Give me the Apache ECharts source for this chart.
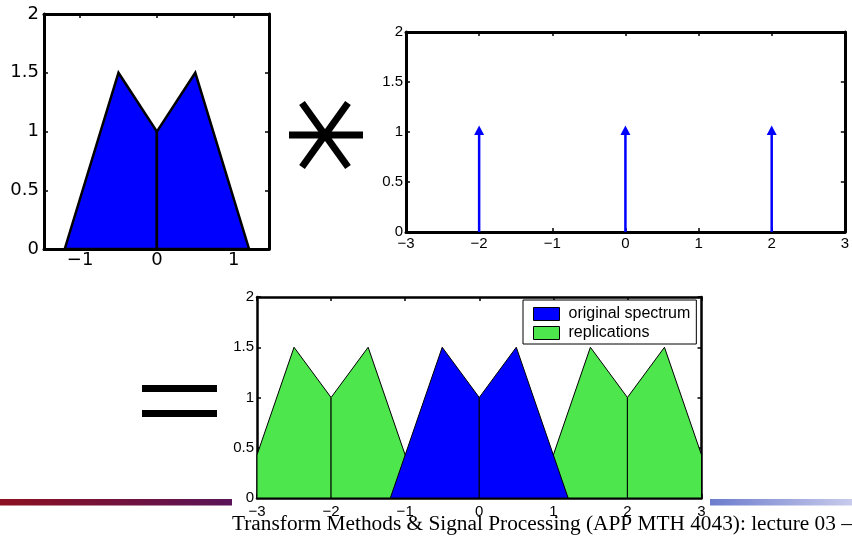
<!DOCTYPE html>
<html>
<head>
<meta charset="utf-8">
<script src="https://cdn.jsdelivr.net/npm/echarts@6/dist/echarts.min.js"></script>
<style>
  html, body { margin: 0; padding: 0; background: #fff; }
  #chart { width: 852px; height: 537px; }
</style>
</head>
<body>
<div id="chart"></div>
<script>
// One period of the spectrum: two halves that meet at the centre
const spectrumX = [-1.2, -0.5, 0, 0.5, 1.2];
const spectrumY = [0, 1.5, 1, 1.5, 0];

// Impulse train it is convolved with
const impulseX = [-2, 0, 2];
const impulseY = [1, 1, 1];

// Shifts of the result: the original copy and its replications
const originalShifts = [0];
const replicaShifts = [-2, 2];

// Axis ranges and tick values
const spectrumXRange = [-1.47, 1.46];
const wideXRange = [-3, 3];
const yRange = [0, 2];
const spectrumXTicks = [-1, 0, 1];
const wideXTicks = [-3, -2, -1, 0, 1, 2, 3];
const yTicks = [0, 0.5, 1, 1.5, 2];

const legendNames = ['original spectrum', 'replications'];
const footerText = 'Transform Methods & Signal Processing (APP MTH 4043): lecture 03 \u2013';

const BLUE = '#0000ff';
const GREEN = '#4de64d';

// Left and right halves of one copy of the spectrum, shifted by `shift`
function halves(shift) {
  const c = spectrumX[2] + shift;
  const left = [[c, 0]];
  for (let i = 0; i <= 2; i++) left.push([spectrumX[i] + shift, spectrumY[i]]);
  const right = [[c, 0]];
  for (let i = 2; i <= 4; i++) right.push([spectrumX[i] + shift, spectrumY[i]]);
  return [left, right];
}

// Sutherland-Hodgman clip of a polygon against the x-range of the axis
function clipX(poly, lo, hi) {
  const pass = (pts, inside, cross) => {
    const out = [];
    for (let i = 0; i < pts.length; i++) {
      const cur = pts[i], prev = pts[(i + pts.length - 1) % pts.length];
      const ci = inside(cur), pi = inside(prev);
      if (ci) { if (!pi) out.push(cross(prev, cur)); out.push(cur); }
      else if (pi) out.push(cross(prev, cur));
    }
    return out;
  };
  const at = x => (a, b) => [x, a[1] + (b[1] - a[1]) * (x - a[0]) / (b[0] - a[0])];
  let p = pass(poly, q => q[0] >= lo, at(lo));
  p = pass(p, q => q[0] <= hi, at(hi));
  return p;
}

function spectrumSeries(name, shifts, color, lineWidth, axisIndex, range, z) {
  return {
    type: 'custom',
    name: name,
    xAxisIndex: axisIndex,
    yAxisIndex: axisIndex,
    z: z,
    itemStyle: { color: color },
    data: shifts.map(s => [s, 0]),
    renderItem(params, api) {
      const shift = api.value(0);
      return {
        type: 'group',
        children: halves(shift).map(poly => ({
          type: 'polygon',
          shape: { points: clipX(poly, range[0], range[1]).map(p => api.coord(p)) },
          style: { fill: color, stroke: '#000', lineWidth: lineWidth, lineJoin: 'miter' }
        }))
      };
    }
  };
}

const minus = v => String(v).replace('-', '\u2212');

// Bottom/left axes carry labels; top/right mirrors only carry inward ticks
function xAxes(grid, range, ticks, font, lineW, margin) {
  const base = {
    type: 'value', gridIndex: grid, min: range[0], max: range[1],
    axisLine: { onZero: false, lineStyle: { color: '#000', width: lineW } },
    axisTick: { inside: true, length: 4, customValues: ticks, lineStyle: { color: '#000', width: 1.5 } },
    splitLine: { show: false }
  };
  return [
    Object.assign({}, base, {
      position: 'bottom',
      axisLabel: { customValues: ticks, formatter: minus, color: '#000', fontSize: font.size, fontFamily: font.family, margin: margin }
    }),
    Object.assign({}, base, { position: 'top', axisLabel: { show: false } })
  ];
}
function yAxes(grid, font, lineW, margin) {
  const base = {
    type: 'value', gridIndex: grid, min: yRange[0], max: yRange[1],
    axisLine: { onZero: false, lineStyle: { color: '#000', width: lineW } },
    axisTick: { inside: true, length: 4, customValues: yTicks, lineStyle: { color: '#000', width: 1.5 } },
    splitLine: { show: false }
  };
  return [
    Object.assign({}, base, {
      position: 'left',
      axisLabel: { customValues: yTicks, formatter: minus, color: '#000', fontSize: font.size, fontFamily: font.family, margin: margin }
    }),
    Object.assign({}, base, { position: 'right', axisLabel: { show: false } })
  ];
}

const bigFont = { size: 18, family: 'DejaVu Sans' };
const smallFont = { size: 15, family: 'Liberation Sans' };

// axis list per grid: [labelled, mirror]
const xAxis = [].concat(
  xAxes(0, spectrumXRange, spectrumXTicks, bigFont, 3, 2),
  xAxes(1, wideXRange, wideXTicks, smallFont, 3, 4),
  xAxes(2, wideXRange, wideXTicks, smallFont, 2.5, 6)
);
const yAxis = [].concat(
  yAxes(0, bigFont, 3, 5),
  yAxes(1, smallFont, 3, 3),
  yAxes(2, smallFont, 2.5, 3)
);

const impulseSeries = {
  type: 'custom',
  name: 'impulses',
  xAxisIndex: 2,
  yAxisIndex: 2,
  itemStyle: { color: BLUE },
  data: impulseX.map((x, i) => [x, impulseY[i]]),
  renderItem(params, api) {
    const base = api.coord([api.value(0), 0]);
    const top = api.coord([api.value(0), api.value(1)]);
    return {
      type: 'group',
      children: [
        { type: 'line', shape: { x1: base[0], y1: base[1], x2: top[0], y2: top[1] },
          style: { stroke: BLUE, lineWidth: 2.5 } },
        { type: 'polygon', shape: { points: [[top[0], top[1] - 6.5], [top[0] - 5, top[1] + 3], [top[0] + 5, top[1] + 3]] },
          style: { fill: BLUE } }
      ]
    };
  }
};

const series = [
  spectrumSeries('spectrum', originalShifts, BLUE, 2.5, 0, spectrumXRange, 2),
  impulseSeries,
  spectrumSeries('replications', replicaShifts, GREEN, 1, 4, wideXRange, 2),
  spectrumSeries('original spectrum', originalShifts, BLUE, 1, 4, wideXRange, 3)
];

const chart = echarts.init(document.getElementById('chart'), null, { renderer: 'canvas' });
chart.setOption({
  animation: false,
  backgroundColor: '#fff',
  grid: [
    { left: 44, top: 14, width: 225, height: 235 },
    { left: 406, top: 32, width: 441, height: 200 },
    { left: 257, top: 297, width: 444.5, height: 201 }
  ],
  xAxis: xAxis,
  yAxis: yAxis,
  legend: {
    data: legendNames,
    orient: 'vertical',
    left: 523,
    top: 300,
    icon: 'rect',
    itemWidth: 26,
    itemHeight: 13,
    itemGap: 3,
    padding: [6, 6, 3, 10],
    backgroundColor: '#fff',
    borderColor: '#000',
    borderWidth: 1,
    borderRadius: 0,
    itemStyle: { borderColor: '#000', borderWidth: 1 },
    textStyle: { color: '#000', fontSize: 16, fontFamily: 'Liberation Sans', lineHeight: 14, padding: [0, 0, 0, 4] },
    selectedMode: false,
    z: 10
  },
  series: series,
  graphic: [
    // convolution sign
    { type: 'line', shape: { x1: 289, y1: 135, x2: 363, y2: 135 }, style: { stroke: '#000', lineWidth: 7 } },
    { type: 'line', shape: { x1: 302, y1: 103, x2: 348, y2: 167 }, style: { stroke: '#000', lineWidth: 7 } },
    { type: 'line', shape: { x1: 348, y1: 103, x2: 302, y2: 167 }, style: { stroke: '#000', lineWidth: 7 } },
    // equals sign
    { type: 'rect', shape: { x: 142, y: 385, width: 75, height: 7 }, style: { fill: '#000' } },
    { type: 'rect', shape: { x: 142, y: 410, width: 75, height: 7 }, style: { fill: '#000' } },
    // footer bars
    { type: 'rect', z: -1, shape: { x: 0, y: 499, width: 232, height: 6.5 },
      style: { fill: new echarts.graphic.LinearGradient(0, 0, 1, 0, [
        { offset: 0, color: '#8c1020' }, { offset: 1, color: '#5a1458' }]) } },
    { type: 'rect', z: -1, shape: { x: 710, y: 499, width: 142, height: 6.5 },
      style: { fill: new echarts.graphic.LinearGradient(0, 0, 1, 0, [
        { offset: 0, color: '#6c7ccc' }, { offset: 1, color: '#c8cbec' }]) } },
    // footer text
    { type: 'text', x: 232, y: 515, scaleX: 1.066,
      style: { text: footerText, fill: '#000', font: '20px "Liberation Serif"', textVerticalAlign: 'top' } }
  ]
});
</script>
</body>
</html>
